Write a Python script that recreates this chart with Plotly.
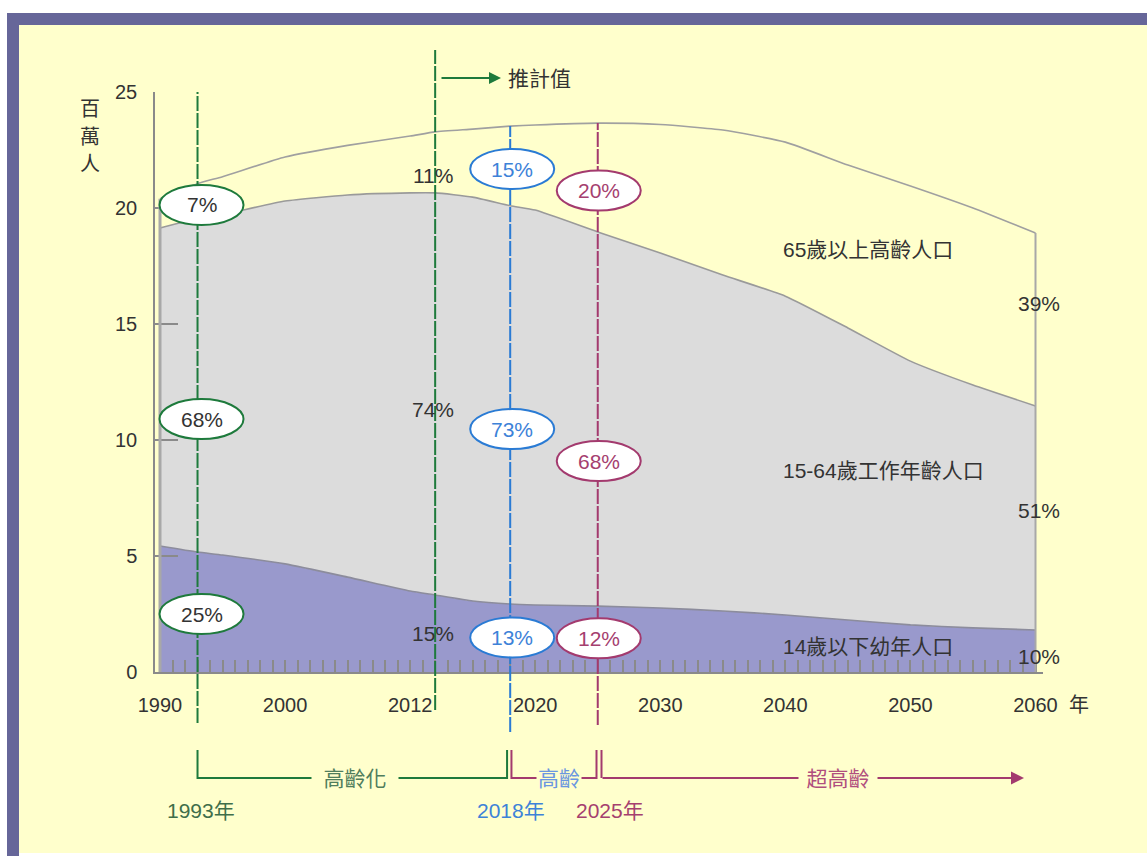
import numpy as np
import plotly.graph_objects as go

# ---------------- data (millions of people) ----------------
years = [1990, 1993, 1995, 2000, 2005, 2010, 2012, 2015, 2018, 2020,
         2025, 2030, 2035, 2040, 2045, 2050, 2055, 2060]
children_0_14 = [5.43, 5.17, 5.04, 4.66, 4.09, 3.49, 3.32, 3.06, 2.93, 2.89,
                 2.84, 2.76, 2.63, 2.46, 2.24, 2.03, 1.90, 1.81]
working_15_64 = [13.71, 14.38, 14.68, 15.64, 16.47, 17.16, 17.33, 17.41, 17.17, 17.02,
                 16.13, 15.30, 14.48, 13.74, 12.59, 11.37, 10.47, 9.66]
elderly_65 = [1.26, 1.50, 1.63, 1.90, 2.14, 2.45, 2.63, 2.93, 3.43, 3.67,
              4.69, 5.54, 6.25, 6.64, 7.02, 7.55, 7.63, 7.45]

group_names = ["14歲以下幼年人口", "15-64歲工作年齡人口", "65歲以上高齡人口"]

x_tick_vals = [1990, 2000, 2010, 2020, 2030, 2040, 2050, 2060]
x_tick_text = ["1990", "2000", "2012", "2020", "2030", "2040", "2050", "2060"]
y_tick_vals = [0, 5, 10, 15, 20, 25]

milestone_years = [1993, 2018, 2025]
milestone_labels = ["1993年", "2018年", "2025年"]
milestone_pct_elderly = ["7%", "15%", "20%"]
milestone_pct_working = ["68%", "73%", "68%"]
milestone_pct_children = ["25%", "13%", "12%"]

estimate_year = 2012
estimate_label = "推計值"
estimate_pct = ["11%", "74%", "15%"]      # elderly, working, children
end_pct = ["39%", "51%", "10%"]           # elderly, working, children
stage_names = ["高齡化", "高齡", "超高齡"]

# ---------------- styling / layout helpers ----------------
W, H = 1147, 856
L, R, T, B = 155, 104, 92, 184
PW, PH = W - L - R, H - T - B
XR = [1989.6, 2060.6]
YR = [0, 25]

def X(px):   # pixel -> year
    return XR[0] + (px - L) / PW * (XR[1] - XR[0])

def P(py):   # pixel -> paper y
    return (H - B - py) / PH

def PX(px):  # pixel -> paper x
    return (px - L) / PW

FONT = "Liberation Sans, Arial, Noto Sans CJK TC, sans-serif"
TXT = "#333333"
GREEN, BLUE, MAG = "#1e7a3c", "#2a7bd4", "#a33a6e"
GREEN_T, BLUE_T, MAG_T = "#333333", "#3d82d8", "#a5406f"
AXIS = "#8a8a8a"
BG = "#FFFFCC"

fig = go.Figure()
fills = ["#9999CC", "#DCDCDC", "#FFFFCC"]
lines = ["#8c8c9c", "#9a9a9a", "#a0a0a0"]
for name, vals, fc, lc in zip(group_names, [children_0_14, working_15_64, elderly_65], fills, lines):
    fig.add_trace(go.Scatter(
        x=years, y=vals, name=name, stackgroup="pop", mode="lines",
        line=dict(color=lc, width=1.6, shape="spline", smoothing=0.5),
        fillcolor=fc, hoverinfo="skip", showlegend=False))

total = np.array(children_0_14) + np.array(working_15_64) + np.array(elderly_65)

shapes = []
# frame
shapes.append(dict(type="rect", xref="paper", yref="paper", x0=PX(7), x1=PX(1170), y0=P(25), y1=P(13),
                   fillcolor="#666699", line=dict(width=0), layer="below"))
shapes.append(dict(type="rect", xref="paper", yref="paper", x0=PX(7), x1=PX(19), y0=P(870), y1=P(13),
                   fillcolor="#666699", line=dict(width=0), layer="below"))
shapes.append(dict(type="rect", xref="paper", yref="paper", x0=PX(19), x1=PX(1170), y0=P(853), y1=P(25),
                   fillcolor=BG, line=dict(width=0), layer="below"))

# area edges
shapes.append(dict(type="line", xref="x", yref="y", x0=years[0], x1=years[0], y0=0, y1=total[0],
                   line=dict(color="#a8a8a8", width=3)))
shapes.append(dict(type="line", xref="x", yref="y", x0=years[-1], x1=years[-1], y0=0, y1=total[-1],
                   line=dict(color="#a8a8a8", width=2)))

dash = "15px,2px"
# vertical milestone lines
ms_colors = [GREEN, BLUE, MAG]
ms_bottom = [723, 732, 725]
ms_top = [1.0, np.interp(2018, years, total) / YR[1], np.interp(2025, years, total) / YR[1]]
for yr, c, b, t in zip(milestone_years, ms_colors, ms_bottom, ms_top):
    shapes.append(dict(type="line", xref="x", yref="paper", x0=yr, x1=yr, y0=P(b), y1=t,
                       line=dict(color=c, width=2, dash=dash)))
shapes.append(dict(type="line", xref="x", yref="paper", x0=estimate_year, x1=estimate_year,
                   y0=P(710), y1=P(50), line=dict(color=GREEN, width=2, dash=dash)))

# ellipses
ell_y = [[20.13, 10.9, 2.5], [21.68, 10.47, 1.49], [20.75, 9.09, 1.45]]
ell_dx = [4, 2, 1]
ell_text_col = [GREEN_T, BLUE_T, MAG_T]
annotations = []
for i, yr in enumerate(milestone_years):
    texts = [milestone_pct_elderly[i], milestone_pct_working[i], milestone_pct_children[i]]
    for yv, tx in zip(ell_y[i], texts):
        shapes.append(dict(type="circle", xref="x", yref="y", xsizemode="pixel", ysizemode="pixel",
                           xanchor=yr, yanchor=yv, x0=ell_dx[i] - 42, x1=ell_dx[i] + 42, y0=-20, y1=20,
                           fillcolor="white", line=dict(color=ms_colors[i], width=2)))
        annotations.append(dict(x=yr, y=yv, xref="x", yref="y", text=tx, showarrow=False,
                                xshift=ell_dx[i], font=dict(family=FONT, size=21, color=ell_text_col[i])))

# estimate-year plain percentages
for yv, tx in zip([21.4, 11.3, 1.64], estimate_pct):
    annotations.append(dict(x=estimate_year, y=yv, xref="x", yref="y", text=tx, showarrow=False,
                            xshift=-2, font=dict(family=FONT, size=21, color=TXT)))
# end percentages
for yv, tx in zip([15.9, 6.94, 0.65], end_pct):
    annotations.append(dict(x=years[-1], y=yv, xref="x", yref="y", text=tx, showarrow=False,
                            xshift=3, font=dict(family=FONT, size=21, color=TXT)))
# group labels
for yv, tx in zip([1.12, 8.7, 18.23], group_names):
    annotations.append(dict(x=X(781), y=yv, xref="x", yref="y", text=tx, showarrow=False,
                            xanchor="left", font=dict(family=FONT, size=21, color=TXT)))

# y-axis title (vertical)
for ch, py in zip("百萬人", [109, 137, 164]):
    annotations.append(dict(x=PX(90), y=P(py), xref="paper", yref="paper", text=ch, showarrow=False,
                            xanchor="center", yanchor="middle",
                            font=dict(family=FONT, size=20, color=TXT)))
# 年 after 2060
annotations.append(dict(x=years[-1], y=P(705), xref="x", yref="paper", text="年", showarrow=False,
                        xanchor="center", yanchor="middle",
                        xshift=43, font=dict(family=FONT, size=20, color=TXT)))

# estimate arrow + label
annotations.append(dict(x=X(501), y=P(78), xref="x", yref="paper", text="", showarrow=True,
                        ax=-61, ay=0, axref="pixel", ayref="pixel", arrowhead=2, arrowsize=1.2,
                        arrowwidth=2, arrowcolor=GREEN, standoff=0))
annotations.append(dict(x=X(506), y=P(78), xref="x", yref="paper", text=estimate_label, showarrow=False,
                        xanchor="left", yanchor="middle", font=dict(family=FONT, size=21, color=TXT)))

# bottom brackets
yb_top, yb = P(750), P(778)
g_end = milestone_years[1] - 0.25
m_start = milestone_years[1] + 0.1
m_end = milestone_years[2] - 0.1
s_start = milestone_years[2] + 0.3
shapes.append(dict(type="path", xref="x", yref="paper",
                   path=f"M {milestone_years[0]},{yb_top} L {milestone_years[0]},{yb} L {g_end},{yb} L {g_end},{yb_top}",
                   line=dict(color=GREEN, width=2)))
shapes.append(dict(type="path", xref="x", yref="paper",
                   path=f"M {m_start},{yb_top} L {m_start},{yb} L {m_end},{yb} L {m_end},{yb_top}",
                   line=dict(color=MAG, width=2)))
shapes.append(dict(type="line", xref="x", yref="paper", x0=s_start, x1=s_start, y0=yb_top, y1=yb,
                   line=dict(color=MAG, width=2)))
annotations.append(dict(x=X(1024), y=yb, xref="x", yref="paper", text="", showarrow=True,
                        ax=-(1024 - 601), ay=0, axref="pixel", ayref="pixel", arrowhead=2, arrowsize=1.3,
                        arrowwidth=2, arrowcolor=MAG, standoff=0))
stage_x = [X(355), X(559), X(838)]
stage_w = [86, 44, 78]
stage_col = ["#4f7d5c", "#6a96e0", "#b04e7e"]
for sx, sw, sc, st in zip(stage_x, stage_w, stage_col, stage_names):
    annotations.append(dict(x=sx, y=yb, xref="x", yref="paper", text=st, showarrow=False,
                            xanchor="center", yanchor="middle",
                            width=sw, bgcolor=BG, borderpad=0,
                            font=dict(family=FONT, size=21, color=sc)))
# milestone year labels
lab_x = [X(201), X(511), X(610)]
lab_col = ["#3f6e4a", "#3d82d8", "#a5406f"]
for lx, lc, lt in zip(lab_x, lab_col, milestone_labels):
    annotations.append(dict(x=lx, y=P(810), xref="x", yref="paper", text=lt, showarrow=False,
                            xanchor="center", yanchor="middle",
                            font=dict(family=FONT, size=21, color=lc)))

fig.update_layout(
    template="none",
    width=W, height=H,
    margin=dict(l=L, r=R, t=T, b=B, autoexpand=False),
    paper_bgcolor="white",
    plot_bgcolor="rgba(0,0,0,0)",
    showlegend=False,
    shapes=shapes,
    annotations=annotations,
    xaxis=dict(range=XR, showgrid=False, zeroline=False, showline=True, linecolor=AXIS, linewidth=2,
               tickvals=x_tick_vals, ticktext=x_tick_text, ticks="inside", ticklen=12, tickwidth=1.5,
               tickcolor=AXIS, ticklabelstandoff=14, automargin=False,
               tickfont=dict(family=FONT, size=20, color=TXT),
               minor=dict(ticks="inside", ticklen=12, tickwidth=1.5, tickcolor=AXIS, dtick=1, tick0=1990,
                          showgrid=False)),
    yaxis=dict(range=YR, showgrid=False, zeroline=False, showline=True, linecolor=AXIS, linewidth=1.5,
               tickvals=y_tick_vals, ticks="inside", ticklen=23, tickwidth=1.5, tickcolor=AXIS,
               ticklabelstandoff=12, automargin=False,
               tickfont=dict(family=FONT, size=20, color=TXT)),
)

fig.write_html("out.html")
